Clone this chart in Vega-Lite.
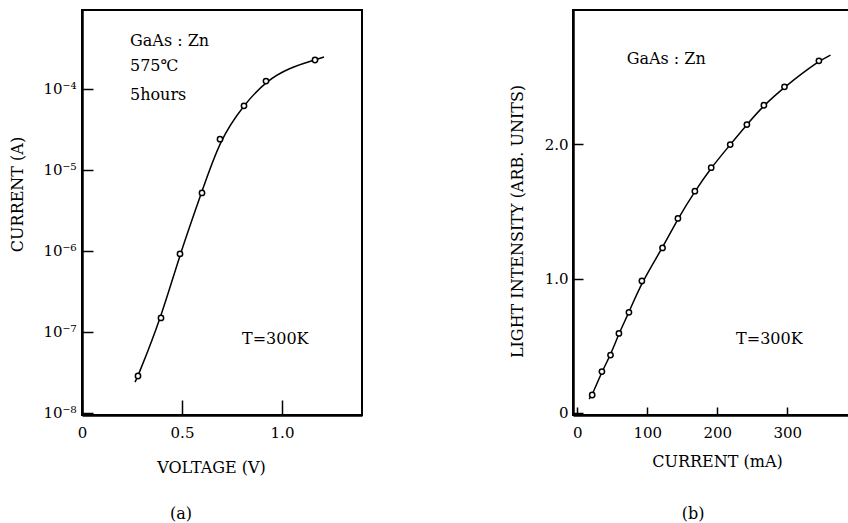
{
  "$schema": "https://vega.github.io/schema/vega-lite/v6.json",
  "padding": {"left": 8, "top": 9, "right": 0, "bottom": 0},
  "background": "white",
  "spacing": 211,
  "bounds": "flush",
  "datasets": {
    "ivpts": [
      {"v": 0.28, "i": 2.86e-8},
      {"v": 0.395, "i": 1.49e-7},
      {"v": 0.49, "i": 9.2e-7},
      {"v": 0.60, "i": 5.2e-6},
      {"v": 0.69, "i": 2.4e-5},
      {"v": 0.81, "i": 6.2e-5},
      {"v": 0.92, "i": 1.25e-4},
      {"v": 1.165, "i": 2.28e-4}
    ],
    "ivcurve": [
      {"v": 0.265, "i": 2.4e-8},
      {"v": 0.28, "i": 2.86e-8},
      {"v": 0.395, "i": 1.49e-7},
      {"v": 0.49, "i": 9.2e-7},
      {"v": 0.595, "i": 5.0e-6},
      {"v": 0.69, "i": 2.4e-5},
      {"v": 0.81, "i": 6.4e-5},
      {"v": 0.92, "i": 1.25e-4},
      {"v": 1.035, "i": 1.82e-4},
      {"v": 1.165, "i": 2.28e-4},
      {"v": 1.21, "i": 2.48e-4}
    ],
    "ivtext": [
      {"v": 0.24, "i": 3.91e-4, "label": "GaAs : Zn"},
      {"v": 0.24, "i": 1.92e-4, "label": "575℃"},
      {"v": 0.24, "i": 8.43e-5, "label": "5hours"},
      {"v": 0.80, "i": 8.18e-8, "label": "T=300K"}
    ],
    "lipts": [
      {"c": 21.4, "l": 0.134},
      {"c": 35.3, "l": 0.308},
      {"c": 47.6, "l": 0.431},
      {"c": 59.6, "l": 0.592},
      {"c": 73.9, "l": 0.749},
      {"c": 92.4, "l": 0.983},
      {"c": 121.9, "l": 1.229},
      {"c": 143.9, "l": 1.448},
      {"c": 168.1, "l": 1.651},
      {"c": 191.4, "l": 1.826},
      {"c": 218.6, "l": 1.998},
      {"c": 242.4, "l": 2.147},
      {"c": 266.7, "l": 2.291},
      {"c": 296.1, "l": 2.428},
      {"c": 345.3, "l": 2.622}
    ],
    "licurve": [
      {"c": 17.1, "l": 0.104},
      {"c": 21.4, "l": 0.134},
      {"c": 35.3, "l": 0.308},
      {"c": 47.6, "l": 0.431},
      {"c": 59.6, "l": 0.592},
      {"c": 73.9, "l": 0.749},
      {"c": 92.4, "l": 0.975},
      {"c": 121.9, "l": 1.229},
      {"c": 143.9, "l": 1.448},
      {"c": 168.1, "l": 1.651},
      {"c": 191.4, "l": 1.826},
      {"c": 218.6, "l": 1.998},
      {"c": 242.4, "l": 2.147},
      {"c": 266.7, "l": 2.291},
      {"c": 296.1, "l": 2.428},
      {"c": 345.3, "l": 2.622},
      {"c": 361.9, "l": 2.664}
    ],
    "litext": [
      {"c": 70.7, "l": 2.635, "label": "GaAs : Zn"},
      {"c": 227, "l": 0.551, "label": "T=300K"}
    ]
  },
  "hconcat": [
    {
      "width": 280,
      "height": 405,
      "title": {"text": "(a)", "orient": "bottom", "anchor": "middle", "frame": "group", "offset": 31, "dx": -41, "baseline": "top", "font": "DejaVu Serif", "fontSize": 16, "fontWeight": "normal", "color": "black"},
      "encoding": {
        "x": {
          "field": "v", "type": "quantitative",
          "scale": {"domain": [0, 1.4], "nice": false, "zero": false},
          "axis": {
            "title": "VOLTAGE (V)", "values": [0, 0.5, 1.0],
            "labelExpr": "datum.value == 0 ? '0' : format(datum.value, '.1f')",
            "tickSize": -15, "labelPadding": 25,
            "titleX": 129, "titleY": 52, "titleBaseline": "middle", "titleAnchor": "middle"
          }
        },
        "y": {
          "field": "i", "type": "quantitative",
          "scale": {"type": "log", "domain": [9.44e-9, 9.44e-4], "nice": false},
          "axis": {
            "title": "CURRENT (A)", "values": [1e-8, 1e-7, 1e-6, 1e-5, 1e-4],
            "labelExpr": "datum.value < 5e-8 ? '10⁻⁸' : datum.value < 5e-7 ? '10⁻⁷' : datum.value < 5e-6 ? '10⁻⁶' : datum.value < 5e-5 ? '10⁻⁵' : '10⁻⁴'",
            "tickSize": -11, "labelPadding": 17,
            "titleX": -65, "titleY": 184, "titleBaseline": "middle", "titleAnchor": "middle", "titleAngle": -90
          }
        }
      },
      "layer": [
        {"data": {"name": "ivcurve"}, "mark": {"type": "line", "interpolate": "basis", "color": "black", "strokeWidth": 1.5}},
        {"data": {"name": "ivpts"}, "mark": {"type": "point", "shape": "circle", "size": 28, "fill": "white", "stroke": "black", "strokeWidth": 1.5, "opacity": 1}},
        {"data": {"name": "ivtext"}, "mark": {"type": "text", "align": "left", "baseline": "middle", "font": "DejaVu Serif", "fontSize": 16, "color": "black"}, "encoding": {"text": {"field": "label"}}}
      ]
    },
    {
      "width": 280,
      "height": 405,
      "title": {"text": "(b)", "orient": "bottom", "anchor": "middle", "frame": "group", "offset": 37, "dx": -20, "baseline": "top", "font": "DejaVu Serif", "fontSize": 16, "fontWeight": "normal", "color": "black"},
      "encoding": {
        "x": {
          "field": "c", "type": "quantitative",
          "scale": {"domain": [-6, 394], "nice": false, "zero": false},
          "axis": {
            "title": "CURRENT (mA)", "values": [0, 100, 200, 300],
            "format": "d",
            "tickSize": -8, "labelPadding": 18,
            "titleX": 144, "titleY": 46, "titleBaseline": "middle", "titleAnchor": "middle"
          }
        },
        "y": {
          "field": "l", "type": "quantitative",
          "scale": {"domain": [-0.015, 3.0], "nice": false, "zero": false},
          "axis": {
            "title": "LIGHT INTENSITY (ARB. UNITS)", "values": [0, 1, 2],
            "labelExpr": "datum.value == 0 ? '0' : format(datum.value, '.1f')",
            "tickSize": -10, "labelPadding": 15,
            "titleX": -56, "titleY": 211, "titleBaseline": "middle", "titleAnchor": "middle", "titleAngle": -90
          }
        }
      },
      "layer": [
        {"data": {"name": "licurve"}, "mark": {"type": "line", "interpolate": "basis", "color": "black", "strokeWidth": 1.5}},
        {"data": {"name": "lipts"}, "mark": {"type": "point", "shape": "circle", "size": 28, "fill": "white", "stroke": "black", "strokeWidth": 1.5, "opacity": 1}},
        {"data": {"name": "litext"}, "mark": {"type": "text", "align": "left", "baseline": "middle", "font": "DejaVu Serif", "fontSize": 16, "color": "black"}, "encoding": {"text": {"field": "label"}}}
      ]
    }
  ],
  "config": {
    "view": {"stroke": "black", "strokeWidth": 2},
    "axis": {
      "grid": false, "domainColor": "black", "domainWidth": 2.5,
      "tickColor": "black", "tickWidth": 1.5,
      "labelColor": "black", "titleColor": "black",
      "labelFont": "DejaVu Serif", "titleFont": "DejaVu Serif",
      "labelFontSize": 15, "titleFontSize": 16, "titleFontWeight": "normal",
      "labelFlush": false, "labelOverlap": false
    }
  }
}
